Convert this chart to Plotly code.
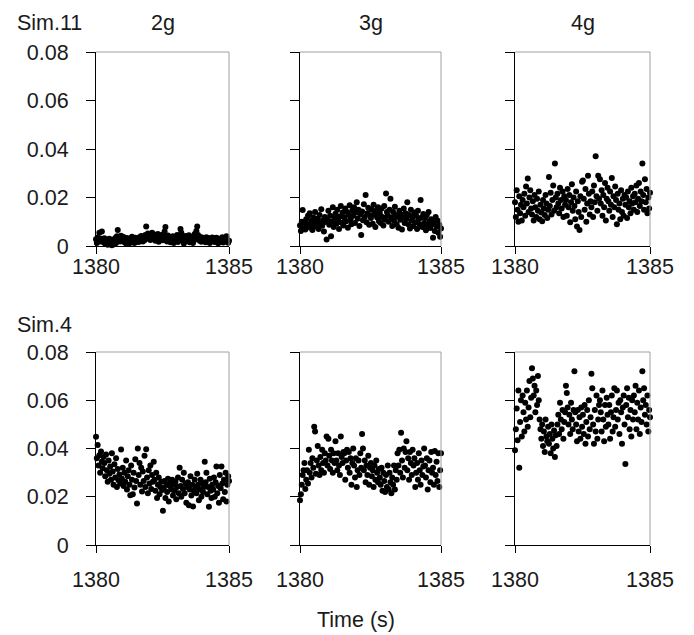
import numpy as np
import plotly.graph_objects as go

# ---------------- data ----------------
T_START, T_END = 1380, 1385
N_SAMPLES = 160
time_s = np.linspace(T_START, T_END, N_SAMPLES)  # sampling instants

row_labels = ["Sim.11", "Sim.4"]
col_labels = ["2g", "3g", "4g"]
y_tick_vals = [0, 0.02, 0.04, 0.06, 0.08]
y_tick_text = ["0", "0.02", "0.04", "0.06", "0.08"]
x_tick_vals = [1380, 1385]
x_tick_text = ["1380", "1385"]
x_title = "Time (s)"

sim11_2g = [
    0.0028,0.0012,0.0035,0.0022,0.0055,0.0019,0.0030,0.0060,0.0024,0.0015,
    0.0032,0.0009,0.0021,0.0027,0.0005,0.0016,0.0030,0.0011,0.0024,0.0003,
    0.0018,0.0026,0.0007,0.0033,0.0012,0.0040,0.0066,0.0028,0.0035,0.0019,
    0.0042,0.0030,0.0024,0.0037,0.0015,0.0029,0.0010,0.0033,0.0022,0.0008,
    0.0026,0.0031,0.0014,0.0038,0.0020,0.0027,0.0012,0.0034,0.0018,0.0025,
    0.0030,0.0016,0.0036,0.0022,0.0041,0.0028,0.0019,0.0035,0.0024,0.0045,
    0.0080,0.0038,0.0052,0.0030,0.0046,0.0025,0.0040,0.0055,0.0033,0.0048,
    0.0036,0.0022,0.0044,0.0030,0.0050,0.0018,0.0039,0.0027,0.0045,0.0032,
    0.0024,0.0041,0.0060,0.0078,0.0034,0.0019,0.0043,0.0028,0.0037,0.0015,
    0.0032,0.0026,0.0040,0.0012,0.0035,0.0022,0.0030,0.0045,0.0017,0.0028,
    0.0038,0.0070,0.0055,0.0024,0.0033,0.0010,0.0029,0.0041,0.0020,0.0035,
    0.0026,0.0044,0.0015,0.0032,0.0023,0.0038,0.0012,0.0036,0.0050,0.0027,
    0.0062,0.0080,0.0045,0.0030,0.0022,0.0037,0.0018,0.0028,0.0034,0.0024,
    0.0030,0.0015,0.0036,0.0021,0.0033,0.0026,0.0012,0.0031,0.0024,0.0035,
    0.0020,0.0032,0.0016,0.0028,0.0034,0.0022,0.0011,0.0030,0.0025,0.0018,
    0.0027,0.0036,0.0014,0.0024,0.0031,0.0019,0.0040,0.0026,0.0013,0.0022,
]

sim11_3g = [
    0.0085,0.0062,0.0100,0.0148,0.0072,0.0095,0.0068,0.0110,0.0080,0.0125,
    0.0090,0.0135,0.0075,0.0105,0.0066,0.0118,0.0088,0.0140,0.0098,0.0079,
    0.0112,0.0070,0.0128,0.0093,0.0152,0.0084,0.0106,0.0060,0.0120,0.0099,
    0.0027,0.0108,0.0145,0.0088,0.0125,0.0040,0.0100,0.0160,0.0078,0.0115,
    0.0133,0.0092,0.0150,0.0108,0.0070,0.0122,0.0165,0.0096,0.0138,0.0085,
    0.0118,0.0155,0.0102,0.0140,0.0075,0.0128,0.0168,0.0110,0.0090,0.0146,
    0.0125,0.0160,0.0095,0.0138,0.0180,0.0112,0.0150,0.0082,0.0130,0.0045,
    0.0142,0.0106,0.0172,0.0120,0.0210,0.0098,0.0135,0.0158,0.0088,0.0126,
    0.0115,0.0150,0.0092,0.0170,0.0130,0.0078,0.0145,0.0118,0.0160,0.0102,
    0.0136,0.0095,0.0155,0.0120,0.0085,0.0165,0.0108,0.0217,0.0140,0.0125,
    0.0100,0.0150,0.0195,0.0118,0.0082,0.0140,0.0105,0.0162,0.0128,0.0090,
    0.0122,0.0075,0.0145,0.0108,0.0130,0.0068,0.0118,0.0155,0.0095,0.0135,
    0.0112,0.0180,0.0090,0.0128,0.0072,0.0150,0.0105,0.0120,0.0082,0.0138,
    0.0098,0.0125,0.0070,0.0145,0.0110,0.0088,0.0190,0.0118,0.0078,0.0132,
    0.0095,0.0115,0.0065,0.0128,0.0085,0.0140,0.0102,0.0074,0.0110,0.0090,
    0.0034,0.0098,0.0062,0.0120,0.0080,0.0105,0.0055,0.0088,0.0038,0.0072,
]

sim11_4g = [
    0.0180,0.0120,0.0230,0.0150,0.0100,0.0205,0.0135,0.0170,0.0105,0.0190,
    0.0160,0.0215,0.0125,0.0245,0.0175,0.0278,0.0140,0.0200,0.0230,0.0155,
    0.0130,0.0185,0.0105,0.0210,0.0160,0.0120,0.0195,0.0145,0.0225,0.0110,
    0.0170,0.0138,0.0102,0.0190,0.0155,0.0128,0.0210,0.0175,0.0115,0.0150,
    0.0285,0.0165,0.0220,0.0130,0.0190,0.0250,0.0145,0.0340,0.0200,0.0160,
    0.0215,0.0175,0.0135,0.0240,0.0190,0.0155,0.0225,0.0120,0.0205,0.0170,
    0.0190,0.0125,0.0235,0.0160,0.0210,0.0098,0.0180,0.0255,0.0145,0.0200,
    0.0165,0.0110,0.0225,0.0080,0.0185,0.0140,0.0066,0.0205,0.0120,0.0265,
    0.0270,0.0195,0.0150,0.0235,0.0100,0.0175,0.0290,0.0215,0.0130,0.0185,
    0.0160,0.0225,0.0120,0.0250,0.0180,0.0370,0.0205,0.0145,0.0290,0.0195,
    0.0275,0.0175,0.0230,0.0125,0.0210,0.0160,0.0260,0.0105,0.0195,0.0240,
    0.0185,0.0145,0.0225,0.0170,0.0280,0.0120,0.0205,0.0160,0.0245,0.0190,
    0.0090,0.0215,0.0150,0.0175,0.0110,0.0230,0.0140,0.0195,0.0125,0.0210,
    0.0170,0.0200,0.0115,0.0225,0.0160,0.0185,0.0135,0.0240,0.0175,0.0205,
    0.0150,0.0215,0.0180,0.0250,0.0140,0.0195,0.0260,0.0165,0.0225,0.0185,
    0.0340,0.0210,0.0150,0.0275,0.0180,0.0235,0.0135,0.0200,0.0155,0.0220,
]

sim4_2g = [
    0.0449,0.0360,0.0415,0.0330,0.0372,0.0300,0.0388,0.0345,0.0318,0.0365,
    0.0340,0.0285,0.0375,0.0310,0.0262,0.0350,0.0295,0.0325,0.0270,0.0380,
    0.0305,0.0250,0.0335,0.0280,0.0360,0.0240,0.0315,0.0268,0.0292,0.0255,
    0.0396,0.0275,0.0320,0.0245,0.0300,0.0262,0.0350,0.0230,0.0285,0.0310,
    0.0250,0.0206,0.0330,0.0270,0.0210,0.0300,0.0238,0.0355,0.0265,0.0172,
    0.0400,0.0290,0.0340,0.0250,0.0320,0.0222,0.0305,0.0265,0.0370,0.0240,
    0.0397,0.0280,0.0215,0.0310,0.0255,0.0330,0.0232,0.0290,0.0262,0.0345,
    0.0270,0.0225,0.0300,0.0195,0.0250,0.0280,0.0210,0.0240,0.0262,0.0228,
    0.0142,0.0235,0.0265,0.0195,0.0250,0.0220,0.0275,0.0180,0.0245,0.0258,
    0.0230,0.0270,0.0205,0.0250,0.0225,0.0262,0.0190,0.0240,0.0280,0.0215,
    0.0320,0.0245,0.0200,0.0270,0.0232,0.0300,0.0215,0.0255,0.0175,0.0240,
    0.0260,0.0165,0.0230,0.0285,0.0205,0.0250,0.0160,0.0225,0.0270,0.0240,
    0.0215,0.0295,0.0250,0.0185,0.0230,0.0270,0.0200,0.0255,0.0220,0.0240,
    0.0345,0.0260,0.0300,0.0210,0.0240,0.0159,0.0275,0.0225,0.0195,0.0250,
    0.0230,0.0280,0.0200,0.0260,0.0325,0.0215,0.0245,0.0175,0.0290,0.0235,
    0.0325,0.0255,0.0190,0.0270,0.0220,0.0300,0.0180,0.0250,0.0285,0.0265,
]

sim4_3g = [
    0.0186,0.0210,0.0250,0.0290,0.0310,0.0340,0.0232,0.0270,0.0310,0.0255,
    0.0395,0.0300,0.0340,0.0280,0.0360,0.0320,0.0490,0.0470,0.0295,0.0350,
    0.0410,0.0330,0.0290,0.0365,0.0310,0.0395,0.0340,0.0300,0.0380,0.0350,
    0.0450,0.0330,0.0440,0.0370,0.0315,0.0395,0.0350,0.0300,0.0380,0.0340,
    0.0430,0.0350,0.0310,0.0380,0.0330,0.0290,0.0450,0.0365,0.0340,0.0385,
    0.0380,0.0270,0.0350,0.0395,0.0320,0.0385,0.0300,0.0360,0.0250,0.0340,
    0.0400,0.0330,0.0280,0.0360,0.0240,0.0310,0.0350,0.0290,0.0380,0.0320,
    0.0460,0.0400,0.0310,0.0350,0.0260,0.0330,0.0290,0.0370,0.0250,0.0320,
    0.0340,0.0285,0.0310,0.0240,0.0330,0.0270,0.0350,0.0300,0.0260,0.0315,
    0.0280,0.0250,0.0320,0.0225,0.0300,0.0265,0.0220,0.0290,0.0240,0.0330,
    0.0230,0.0300,0.0260,0.0215,0.0280,0.0250,0.0330,0.0230,0.0310,0.0270,
    0.0380,0.0330,0.0395,0.0300,0.0465,0.0350,0.0280,0.0400,0.0320,0.0385,
    0.0430,0.0310,0.0360,0.0270,0.0385,0.0340,0.0290,0.0395,0.0330,0.0360,
    0.0240,0.0300,0.0340,0.0270,0.0380,0.0310,0.0250,0.0350,0.0290,0.0325,
    0.0400,0.0330,0.0280,0.0360,0.0230,0.0310,0.0350,0.0260,0.0385,0.0300,
    0.0320,0.0250,0.0390,0.0290,0.0345,0.0265,0.0380,0.0240,0.0310,0.0380,
]

sim4_4g = [
    0.0393,0.0480,0.0566,0.0434,0.0640,0.0320,0.0510,0.0600,0.0450,0.0620,
    0.0550,0.0470,0.0590,0.0520,0.0640,0.0490,0.0570,0.0680,0.0530,0.0610,
    0.0733,0.0690,0.0620,0.0660,0.0550,0.0640,0.0580,0.0700,0.0600,0.0520,
    0.0480,0.0440,0.0500,0.0410,0.0470,0.0385,0.0520,0.0450,0.0430,0.0490,
    0.0420,0.0460,0.0380,0.0500,0.0440,0.0400,0.0475,0.0365,0.0455,0.0410,
    0.0500,0.0540,0.0460,0.0590,0.0520,0.0480,0.0560,0.0440,0.0510,0.0550,
    0.0660,0.0630,0.0570,0.0500,0.0540,0.0460,0.0590,0.0520,0.0480,0.0560,
    0.0720,0.0550,0.0500,0.0430,0.0560,0.0470,0.0530,0.0440,0.0570,0.0490,
    0.0540,0.0460,0.0580,0.0420,0.0510,0.0560,0.0450,0.0600,0.0480,0.0530,
    0.0710,0.0650,0.0500,0.0420,0.0560,0.0470,0.0620,0.0440,0.0520,0.0580,
    0.0600,0.0550,0.0470,0.0640,0.0520,0.0430,0.0580,0.0490,0.0610,0.0540,
    0.0500,0.0580,0.0440,0.0550,0.0620,0.0470,0.0530,0.0650,0.0490,0.0560,
    0.0640,0.0520,0.0590,0.0460,0.0600,0.0550,0.0420,0.0570,0.0620,0.0500,
    0.0336,0.0580,0.0650,0.0530,0.0610,0.0480,0.0560,0.0450,0.0600,0.0520,
    0.0620,0.0550,0.0660,0.0480,0.0590,0.0520,0.0640,0.0460,0.0570,0.0510,
    0.0720,0.0600,0.0650,0.0540,0.0580,0.0500,0.0620,0.0470,0.0560,0.0530,
]

panels = [
    [sim11_2g, sim11_3g, sim11_4g],
    [sim4_2g, sim4_3g, sim4_4g],
]

# ---------------- layout ----------------
W, H = 694, 635
FONT = "Liberation Sans, Arial, sans-serif"
FS = 21.5
col_px = [(96, 229), (300, 441), (515, 650)]
row_px = [(52, 246), (352, 545)]
x_label_standoff = [-6, 8]   # per row

fig = go.Figure()
layout = dict(
    template="none",
    width=W, height=H,
    margin=dict(l=0, r=0, t=0, b=0, autoexpand=False),
    paper_bgcolor="white", plot_bgcolor="white",
    showlegend=False,
    font=dict(family=FONT, size=FS, color="#1a1a1a"),
)
shapes = []
annotations = []
k = 0
for r in range(2):
    for c in range(3):
        k += 1
        xa = "x" if k == 1 else f"x{k}"
        ya = "y" if k == 1 else f"y{k}"
        fig.add_trace(go.Scatter(
            x=time_s, y=panels[r][c], mode="markers",
            marker=dict(color="black", size=6, line=dict(width=0)),
            cliponaxis=False, xaxis=xa, yaxis=ya,
        ))
        x0, x1 = col_px[c]
        y0, y1 = row_px[r]
        layout["xaxis" if k == 1 else f"xaxis{k}"] = dict(
            domain=[x0 / W, x1 / W], anchor=ya, automargin=False,
            range=[T_START, T_END], showgrid=False, zeroline=False,
            showline=True, linecolor="black", linewidth=1,
            ticks="outside", ticklen=7, tickcolor="black", tickwidth=1,
            tickvals=x_tick_vals, ticktext=x_tick_text,
            ticklabelstandoff=x_label_standoff[r],
            tickfont=dict(family=FONT, size=FS, color="#1a1a1a"),
        )
        layout["yaxis" if k == 1 else f"yaxis{k}"] = dict(
            domain=[1 - y1 / H, 1 - y0 / H], anchor=xa, automargin=False,
            range=[0, 0.08], showgrid=False, zeroline=False,
            showline=True, linecolor="black", linewidth=1,
            ticks="outside", ticklen=9, tickcolor="black", tickwidth=1,
            tickvals=y_tick_vals, ticktext=y_tick_text,
            showticklabels=(c == 0), ticklabelstandoff=13,
            tickfont=dict(family=FONT, size=FS, color="#1a1a1a"),
        )
        dref_x = f"{xa} domain"
        dref_y = f"{ya} domain"
        shapes.append(dict(type="line", xref=dref_x, yref=dref_y,
                           x0=0, x1=1, y0=1, y1=1,
                           line=dict(color="#a0a0a0", width=1)))
        shapes.append(dict(type="line", xref=dref_x, yref=dref_y,
                           x0=1, x1=1, y0=0, y1=1,
                           line=dict(color="#a0a0a0", width=1)))

# column titles
for c, lab in enumerate(col_labels):
    x0, x1 = col_px[c]
    annotations.append(dict(text=lab, x=(x0 + x1) / 2 / W, y=1 - 22.5 / H,
                            xref="paper", yref="paper", xanchor="center",
                            yanchor="middle", showarrow=False))
# row labels
annotations.append(dict(text=row_labels[0], x=15 / W, y=1 - 22.5 / H,
                        xref="paper", yref="paper", xanchor="left",
                        yanchor="middle", showarrow=False))
annotations.append(dict(text=row_labels[1], x=15 / W, y=1 - 325 / H,
                        xref="paper", yref="paper", xanchor="left",
                        yanchor="middle", showarrow=False))
annotations.append(dict(text=x_title, x=356 / W, y=1 - 620 / H,
                        xref="paper", yref="paper", xanchor="center",
                        yanchor="middle", showarrow=False))

layout["shapes"] = shapes
layout["annotations"] = annotations
fig.update_layout(**layout)
fig.write_html("out.html")
